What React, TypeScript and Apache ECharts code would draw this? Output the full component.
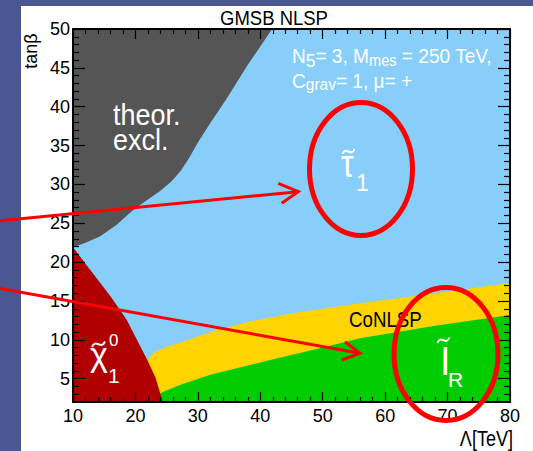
import React, { useEffect, useRef } from 'react';
import * as echarts from 'echarts';

// Axis ranges: Λ in TeV (x), tanβ (y)
const lambdaRange = [10, 80];
const lambdaTickStep = 10;
const tanBetaRange = [2, 50];
const tanBetaMajorTicks = [5, 10, 15, 20, 25, 30, 35, 40, 45, 50];
const tanBetaMinorTicks = [
  3, 4, 6, 7, 8, 9, 11, 12, 13, 14, 16, 17, 18, 19, 21, 22, 23, 24, 26, 27, 28, 29,
  31, 32, 33, 34, 36, 37, 38, 39, 41, 42, 43, 44, 46, 47, 48, 49,
];

// NLSP regions in the (Λ, tanβ) plane
const stauRegion = [[10, 2], [80, 2], [80, 50], [10, 50]];
const coNlspUpperEdge = [
  [21.5, 7.0], [23, 8.4], [25, 9.1], [27.1, 9.6], [32, 11.0], [38, 12.3],
  [45, 13.4], [56, 14.7], [68, 16.0], [80, 17.3],
];
const sleptonUpperEdge = [
  [21.8, 2], [24.4, 3.3], [27.1, 4.2], [32, 5.5], [41.6, 7.4], [50, 9.0],
  [56, 10.2], [68, 11.8], [80, 13.2],
];
const neutralinoRegion = [
  [10, 21.9], [12, 19.8], [14, 17.7], [16, 15.6], [18.6, 12.6], [20.5, 9.6],
  [21.9, 7.4], [23.2, 5.2], [24.4, 2], [10, 2],
];
const theorExclRegion = [
  [10, 50], [10, 21.9], [12, 22.5], [14.3, 23.3], [17, 24.8], [19.5, 26.6],
  [21.2, 27.6], [24, 29.2], [25.8, 30.4], [27.3, 31.8], [28.6, 33.4], [30, 35.4],
  [32, 37.9], [34.5, 40.9], [38, 45.4], [41.9, 50],
];
const coNlspRegion = [...coNlspUpperEdge, [80, 2], [21.5, 2]];
const sleptonRegion = [...sleptonUpperEdge, [80, 2]];

const FONT = '"Liberation Sans", Arial, Helvetica, sans-serif';
const RED = '#ff0000';
const WHITE = '#ffffff';

let measureCtx: CanvasRenderingContext2D | null = null;
function textWidth(t: string, size: number): number {
  if (!measureCtx) measureCtx = document.createElement('canvas').getContext('2d');
  if (!measureCtx) return t.length * size * 0.55;
  measureCtx.font = `${size}px ${FONT}`;
  return measureCtx.measureText(t).width;
}

type Run = { t: string; size: number; dy?: number };

// Text placed on an alphabetic baseline (middle-aligned element shifted up)
function textEl(x: number, baseline: number, t: string, size: number, fill: string, z: number, align = 'left', extra: any = {}) {
  return {
    type: 'text',
    x,
    y: baseline - 0.347 * size,
    z,
    silent: true,
    ...extra,
    style: {
      text: t,
      fill,
      font: `${size}px ${FONT}`,
      align,
      textAlign: align,
      verticalAlign: 'middle',
      textVerticalAlign: 'middle',
    },
  };
}

// A line made of several runs (sub/superscripts), laid out from the left
function runLine(left: number, baseline: number, runs: Run[], fill: string, scaleX: number, z: number) {
  let x = 0;
  const children = runs.map((r) => {
    const el = textEl(x, baseline + (r.dy || 0), r.t, r.size, fill, z);
    x += textWidth(r.t, r.size);
    return el;
  });
  return { type: 'group', x: left, y: 0, scaleX, children };
}

function tilde(x1: number, y1: number, x2: number, y2: number, z: number) {
  const w = x2 - x1;
  return {
    type: 'bezierCurve',
    z,
    silent: true,
    shape: {
      x1, y1, x2, y2,
      cpx1: x1 + w * 0.3, cpy1: y1 - 9,
      cpx2: x1 + w * 0.7, cpy2: y2 + 9,
    },
    style: { stroke: WHITE, lineWidth: 2, fill: 'none' },
  };
}

function arrow(x0: number, y0: number, tip: [number, number], a1: [number, number], a2: [number, number], z: number) {
  return [
    {
      type: 'line', z, silent: true,
      shape: { x1: x0, y1: y0, x2: tip[0], y2: tip[1] },
      style: { stroke: RED, lineWidth: 3 },
    },
    {
      type: 'polyline', z, silent: true,
      shape: { points: [a1, tip, a2] },
      style: { stroke: RED, lineWidth: 3, fill: 'none' },
    },
  ];
}

function regionSeries(name: string, points: number[][], color: string) {
  return {
    type: 'custom',
    name,
    silent: true,
    z: 2,
    xAxisIndex: 0,
    yAxisIndex: 0,
    data: points,
    encode: { x: 0, y: 1 },
    renderItem: (params: any, api: any) => {
      if (params.dataIndexInside !== 0) return null;
      const pts: number[][] = [];
      for (let i = 0; i < params.dataInsideLength; i++) {
        pts.push(api.coord([api.value(0, i), api.value(1, i)]));
      }
      return { type: 'polygon', shape: { points: pts }, style: { fill: color, stroke: 'none' } };
    },
  };
}

function xAxisDef(position: 'bottom' | 'top') {
  return {
    type: 'value',
    position,
    min: lambdaRange[0],
    max: lambdaRange[1],
    interval: lambdaTickStep,
    z: 5,
    axisLine: { show: true, onZero: false, lineStyle: { color: '#000', width: 2 } },
    axisTick: { show: true, inside: true, length: 10, lineStyle: { color: '#000', width: 1.2 } },
    minorTick: { show: true, splitNumber: 5, length: 5, lineStyle: { color: '#000', width: 1.2 } },
    axisLabel: {
      show: position === 'bottom',
      margin: 5,
      color: '#000',
      fontSize: 18,
      fontFamily: FONT,
      showMinLabel: true,
      showMaxLabel: true,
    },
    splitLine: { show: false },
    minorSplitLine: { show: false },
  };
}

function yAxisDef(position: 'left' | 'right', major: boolean) {
  const ticks = major ? tanBetaMajorTicks : tanBetaMinorTicks;
  return {
    type: 'value',
    position,
    min: tanBetaRange[0],
    max: tanBetaRange[1],
    z: 5,
    axisLine: { show: major, onZero: false, lineStyle: { color: '#000', width: 2 } },
    axisTick: {
      show: true,
      inside: true,
      length: major ? 12 : 6,
      customValues: ticks,
      lineStyle: { color: '#000', width: 1.2 },
    },
    axisLabel: {
      show: major && position === 'left',
      customValues: tanBetaMajorTicks,
      margin: 3,
      color: '#000',
      fontSize: 18,
      fontFamily: FONT,
      showMinLabel: true,
      showMaxLabel: true,
    },
    splitLine: { show: false },
  };
}

function buildOption() {
  const zText = 10;
  const zMark = 20;
  const graphic: any[] = [
    // white slide panel
    { type: 'rect', z: -5, silent: true, shape: { x: 21, y: 6, width: 512, height: 445 }, style: { fill: WHITE } },
    // title
    { type: 'group', x: 274, y: 0, scaleX: 0.88, children: [textEl(0, 25, 'GMSB NLSP', 21, '#000', zText, 'center')] },
    // axis titles
    textEl(31, 51 + 0.347 * 18, 'tanβ', 18, '#000', zText, 'center', { rotation: Math.PI / 2, originX: 0, originY: 0 }),
    { type: 'group', x: 513, y: 0, scaleX: 0.82, children: [textEl(0, 446, 'Λ[TeV]', 22, '#000', zText, 'right')] },
    // parameter box
    runLine(292, 63, [
      { t: 'N', size: 21 },
      { t: '5', size: 19, dy: 4 },
      { t: '= 3, M', size: 21 },
      { t: 'mes', size: 16, dy: 3 },
      { t: ' = 250 TeV,', size: 21 },
    ], WHITE, 0.91, zText),
    runLine(292, 88, [
      { t: 'C', size: 21 },
      { t: 'grav', size: 17, dy: 2 },
      { t: '= 1, μ= +', size: 21 },
    ], WHITE, 0.91, zText),
    // region labels
    { type: 'group', x: 113, y: 0, scaleX: 0.9, children: [
      textEl(0, 125, 'theor.', 30, WHITE, zText),
      textEl(0, 150, 'excl.', 30, WHITE, zText),
    ] },
    { type: 'group', x: 349, y: 0, scaleX: 0.85, children: [textEl(0, 327, 'CoNLSP', 22, '#000', zText)] },
    // stau
    { type: 'group', x: 341, y: 0, scaleX: 0.85, children: [textEl(0, 177, 'τ', 38, WHITE, zText)] },
    textEl(356, 191, '1', 23, WHITE, zText),
    tilde(342.5, 154, 354.5, 149, zText),
    // neutralino
    textEl(90, 366, 'χ', 34, WHITE, zText),
    textEl(109, 346, '0', 17, WHITE, zText),
    textEl(108, 383, '1', 21, WHITE, zText),
    tilde(92, 347, 105, 341.5, zText),
    // right-handed slepton
    textEl(441, 375, 'l', 38, WHITE, zText),
    textEl(448, 387, 'R', 21, WHITE, zText),
    tilde(437.5, 343, 449.5, 337.5, zText),
    // highlight ellipses
    { type: 'ellipse', z: zMark, silent: true, shape: { cx: 361, cy: 169, rx: 51.5, ry: 66.5 }, style: { fill: 'none', stroke: RED, lineWidth: 5 } },
    { type: 'ellipse', z: zMark, silent: true, shape: { cx: 446, cy: 354, rx: 52, ry: 66.5 }, style: { fill: 'none', stroke: RED, lineWidth: 5 } },
    // arrows
    ...arrow(0, 220.7, [298.3, 191.7], [278.3, 183.3], [281.7, 203.3], zMark),
    ...arrow(0, 288.5, [360, 353.3], [345, 341.7], [341.7, 360], zMark),
  ];

  return {
    animation: false,
    backgroundColor: '#4a5791',
    grid: { left: 73, top: 29, width: 437, height: 373, containLabel: false },
    xAxis: [xAxisDef('bottom'), xAxisDef('top')],
    yAxis: [yAxisDef('left', true), yAxisDef('left', false), yAxisDef('right', true), yAxisDef('right', false)],
    series: [
      regionSeries('stau NLSP', stauRegion, '#87cefa'),
      regionSeries('CoNLSP', coNlspRegion, '#ffd400'),
      regionSeries('slepton NLSP', sleptonRegion, '#00cc00'),
      regionSeries('neutralino NLSP', neutralinoRegion, '#b00000'),
      regionSeries('theor. excl.', theorExclRegion, '#555555'),
    ],
    graphic: { elements: graphic },
  };
}

export default function App() {
  const ref = useRef<HTMLDivElement>(null);
  useEffect(() => {
    if (!ref.current) return;
    const chart = echarts.init(ref.current, undefined, { renderer: 'svg' });
    chart.setOption(buildOption() as any);
    return () => chart.dispose();
  }, []);
  return <div ref={ref} style={{ position: 'absolute', left: 0, top: 0, width: 533, height: 451 }} />;
}
